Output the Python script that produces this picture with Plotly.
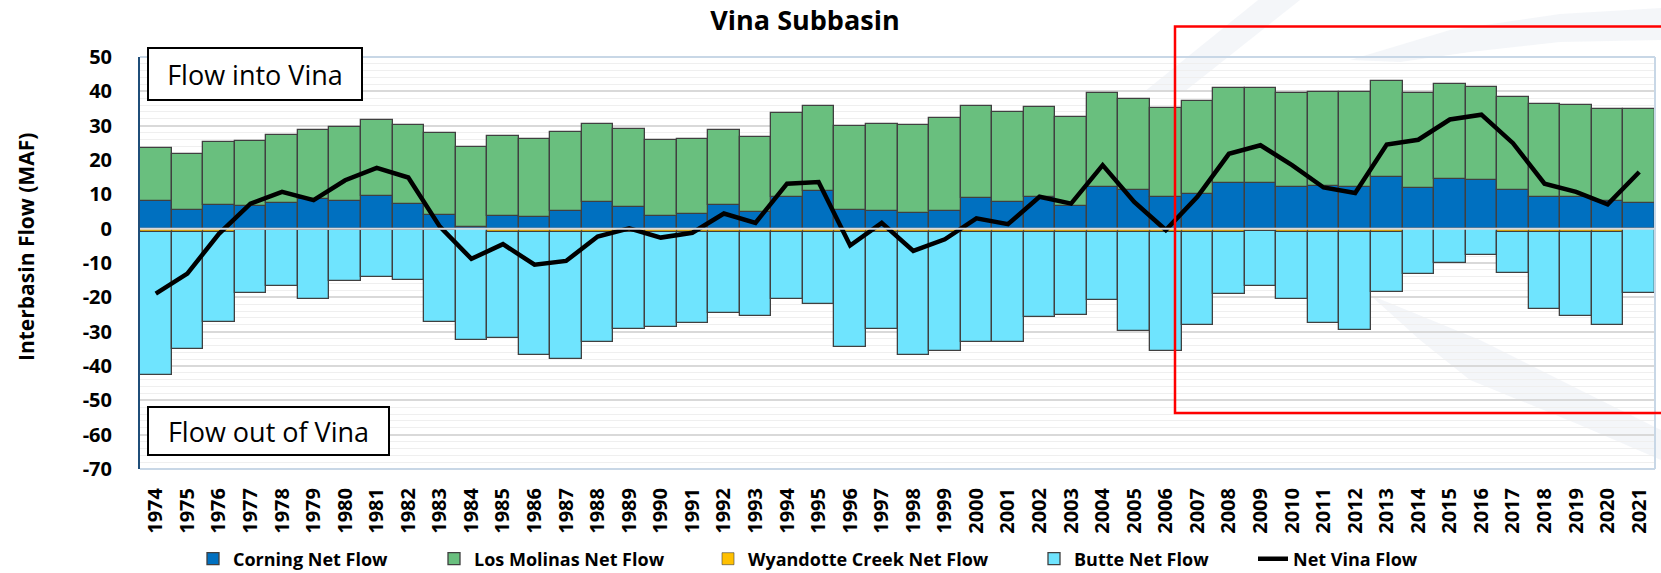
import plotly.graph_objects as go

years = [str(y) for y in range(1974, 2022)]

corning = [8.0, 5.4, 6.8, 6.5, 7.6, 8.6, 8.0, 9.6, 7.3, 4.0, 0.5, 3.6, 3.3, 5.2, 7.7, 6.4,
           3.6, 4.2, 6.8, 5.0, 9.1, 10.9, 5.5, 5.1, 4.5, 5.2, 8.9, 7.9, 9.2, 6.5, 12.2, 11.2,
           9.2, 10.0, 13.4, 13.3, 12.2, 12.5, 12.2, 15.1, 11.9, 14.6, 14.1, 11.2, 9.1, 9.1, 8.0, 7.6]

los_molinas = [15.5, 16.4, 18.4, 19.0, 19.7, 20.2, 21.6, 22.1, 22.8, 23.9, 23.3, 23.5, 22.8, 23.1,
               22.7, 22.5, 22.1, 21.9, 21.8, 21.8, 24.5, 24.7, 24.5, 25.3, 25.6, 27.1, 26.7, 26.1,
               26.1, 26.1, 27.2, 26.5, 26.0, 27.1, 27.6, 27.6, 27.2, 27.3, 27.6, 28.0, 27.5, 27.5,
               27.3, 27.1, 27.2, 26.9, 26.9, 27.3]

wyandotte = [-1.0, -1.0, -1.0, -0.3, -0.3, -0.3, -0.3, -0.3, -0.3, -0.3, -0.2, -1.0, -1.0, -1.0,
             -1.0, -1.0, -1.0, -1.0, -1.0, -1.0, -1.0, -1.0, -1.0, -1.0, -1.0, -1.0, -1.0, -1.0,
             -1.0, -1.0, -1.0, -1.0, -1.0, -1.0, -1.0, -0.8, -1.0, -1.1, -1.0, -1.0, -0.1, -0.1,
             -0.1, -1.0, -1.0, -1.0, -1.0, -0.1]

butte = [-41.5, -34.0, -26.2, -18.3, -16.5, -20.2, -15.0, -13.8, -14.7, -26.9, -32.3, -30.8,
         -35.7, -36.9, -31.9, -28.3, -27.5, -26.4, -23.5, -24.3, -19.6, -20.9, -33.4, -28.1,
         -35.8, -34.6, -31.9, -31.9, -24.8, -24.0, -19.8, -28.8, -34.7, -27.1, -18.1, -15.9,
         -19.6, -26.3, -28.5, -17.4, -13.2, -9.8, -7.6, -12.0, -22.3, -24.5, -27.1, -18.5]

net_vina = [-18.9, -13.1, -1.5, 7.3, 10.7, 8.3, 14.1, 17.7, 14.9, 0.6, -8.8, -4.5, -10.5, -9.4,
            -2.3, 0.1, -2.6, -1.2, 4.4, 1.7, 13.1, 13.6, -4.9, 1.7, -6.5, -3.1, 3.0, 1.3, 9.3,
            7.3, 18.5, 7.8, -0.4, 9.3, 21.8, 24.3, 18.5, 12.0, 10.4, 24.5, 25.9, 31.8, 33.2,
            24.9, 13.1, 10.7, 7.1, 16.5]

y_ticks = list(range(-70, 51, 10))

W, H = 1661, 573
L, R, T, B = 140, 6, 57, 104
PW, PH = W - L - R, H - T - B


def px_x(px):
    return (px - L) / PW


def px_y(py):
    return (H - B - py) / PH


def px_path(points):
    pts = [f"{px_x(x):.4f},{px_y(y):.4f}" for x, y in points]
    return "M" + " L".join(pts) + " Z"


FONT = "Open Sans, Noto Sans, DejaVu Sans, sans-serif"
outline = dict(color="#404040", width=1.3)

fig = go.Figure()
fig.add_trace(go.Bar(x=years, y=corning, name="Corning Net Flow", showlegend=True,
                     marker=dict(color="#0070C0", line=outline), legend="legend"))
fig.add_trace(go.Bar(x=years, y=los_molinas, name="Los Molinas Net Flow", showlegend=True,
                     marker=dict(color="#69BF7E", line=outline), legend="legend2"))
fig.add_trace(go.Bar(x=years, y=wyandotte, name="Wyandotte Creek Net Flow", showlegend=True,
                     marker=dict(color="#FFC000", line=dict(color="#404040", width=0.6)),
                     legend="legend3"))
fig.add_trace(go.Bar(x=years, y=butte, name="Butte Net Flow", showlegend=True,
                     marker=dict(color="#6FE4FE", line=outline), legend="legend4"))
fig.add_trace(go.Scatter(x=years, y=net_vina, name="Net Vina Flow", mode="lines", showlegend=True,
                         line=dict(color="black", width=4.5), legend="legend5"))

leg_font = dict(family=FONT, size=18, color="black", weight="bold")
text_starts = [235, 476, 750, 1076, 1295]
legs = {}
for i, ts in enumerate(text_starts):
    key = "legend" if i == 0 else f"legend{i + 1}"
    legs[key] = dict(x=(ts - 42) / W, xref="container", y=1 - 559 / H, yref="container",
                     xanchor="left", yanchor="middle", visible=True,
                     orientation="h", font=leg_font, bgcolor="rgba(0,0,0,0)",
                     borderwidth=0)

shapes = []
# faint watermark swooshes (behind everything)
wm = "rgba(214,223,233,0.28)"
shapes.append(dict(type="path", xref="paper", yref="paper", layer="below", line=dict(width=0),
                   fillcolor=wm,
                   path=px_path([(1144, 92), (1184, 92), (1300, 0), (1258, 0)])))
shapes.append(dict(type="path", xref="paper", yref="paper", layer="below", line=dict(width=0),
                   fillcolor=wm,
                   path=px_path([(1350, 60), (1450, 30), (1560, 14), (1661, 8), (1661, 40),
                                 (1560, 42), (1470, 52), (1400, 62)])))
shapes.append(dict(type="path", xref="paper", yref="paper", layer="below", line=dict(width=0),
                   fillcolor=wm,
                   path=px_path([(1370, 295), (1480, 340), (1580, 390), (1661, 430), (1661, 460),
                                 (1580, 425), (1470, 380), (1420, 340)])))
# light blue frame top/right/bottom
for (x0, y0, x1, y1) in [(0, 1, 1, 1), (1, 0, 1, 1), (0, 0, 1, 0)]:
    shapes.append(dict(type="line", xref="paper", yref="paper", x0=x0, y0=y0, x1=x1, y1=y1,
                       line=dict(color="#C8D7E6", width=2), layer="above"))
# zero line
shapes.append(dict(type="line", xref="paper", yref="y", x0=0, x1=1, y0=0, y1=0,
                   line=dict(color="#D4D8DE", width=2), layer="above"))
# red highlight rectangle
shapes.append(dict(type="rect", xref="paper", yref="paper",
                   x0=px_x(1175), x1=px_x(1675), y0=px_y(413), y1=px_y(26.5),
                   line=dict(color="#FF0000", width=2.5), fillcolor="rgba(0,0,0,0)", layer="above"))

annotations = [
    dict(text="Flow into Vina", xref="paper", yref="paper", x=px_x(147), y=px_y(47),
         xanchor="left", yanchor="top", showarrow=False, width=212, height=50,
         font=dict(family=FONT, size=27, color="black"), bgcolor="white",
         bordercolor="black", borderwidth=2, borderpad=0, align="center"),
    dict(text="Flow out of Vina", xref="paper", yref="paper", x=px_x(147), y=px_y(456),
         xanchor="left", yanchor="bottom", showarrow=False, width=239, height=46,
         font=dict(family=FONT, size=27, color="black"), bgcolor="white",
         bordercolor="black", borderwidth=2, borderpad=0, align="center"),
    dict(text="Interbasin Flow (MAF)", xref="paper", yref="paper", x=px_x(26), y=px_y(247),
         xanchor="center", yanchor="middle", showarrow=False, textangle=-90,
         font=dict(family=FONT, size=21, color="black", weight="bold")),
]

fig.update_layout(
    width=W, height=H,
    margin=dict(l=L, r=R, t=T, b=B, autoexpand=False),
    paper_bgcolor="white", plot_bgcolor="rgba(0,0,0,0)",
    barmode="relative", bargap=0,
    title=dict(text="<b>Vina Subbasin</b>", x=805 / W, xref="container", xanchor="center",
               y=1 - 21 / H, yref="container", yanchor="middle", automargin=False,
               font=dict(family=FONT, size=27, color="black")),
    shapes=shapes, annotations=annotations,
    **legs,
)

fig.update_xaxes(type="category", tickangle=-90, showgrid=False, showline=False,
                 ticks="", ticklabelstandoff=14, automargin=False,
                 tickfont=dict(family=FONT, size=20, color="black", weight="bold"))
fig.update_yaxes(range=[-70, 50], tickmode="array", tickvals=y_ticks,
                 ticktext=[str(v) for v in y_ticks], automargin=False,
                 showgrid=True, gridcolor="#D9D9D9", gridwidth=1.5, zeroline=False,
                 minor=dict(dtick=2, showgrid=True, gridcolor="#EFEFEF", gridwidth=1),
                 showline=True, linecolor="#1F4E79", linewidth=2, ticks="",
                 ticklabelstandoff=22,
                 tickfont=dict(family=FONT, size=20, color="black", weight="bold"))

fig.write_html("out.html", config={"displayModeBar": False},
               post_script="document.body.style.margin='0px';"
                           "document.body.style.overflow='hidden';")
